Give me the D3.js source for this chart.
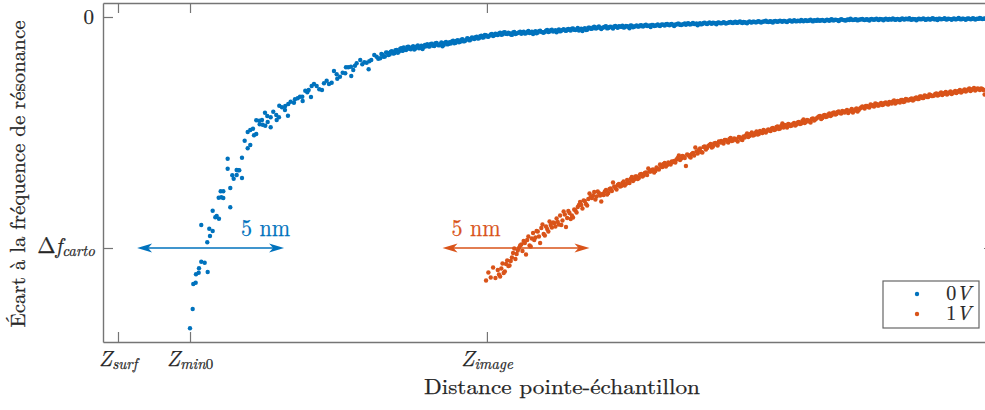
<!DOCTYPE html>
<html><head><meta charset="utf-8">
<script src="https://cdn.jsdelivr.net/npm/d3@7"></script>
<style>
body{margin:0;background:#fff}
svg{display:block}
</style>
</head><body><svg id="c" width="985" height="410"></svg>
<script>
// ---------- DATA ----------
// x: tip-sample distance (nm, 0 = Z_surf), y: resonance frequency shift (Hz)
const tickZ = [0, 2.45, 12.55];
const tickZMain = ["Z", "Z", "Z"];
const tickZSub = ["surf", "min", "image"];
const tickZSubUpright = ["", "0", ""];
const tickDf = [0, -23.1];
const seriesNames = ["0", "1"];
const seriesColors = ["#0072BD", "#D95319"];

// 0 V : steep approach part (read point by point)
const blueSparseZ = [2.449,2.541,2.561,2.643,2.653,2.745,2.755,2.833,2.949,3.051,
2.833,3.037,3.105,3.129,3.221,3.221,3.310,3.357,3.435,3.425,
3.493,3.514,3.582,3.582,3.731,3.731,3.820,3.820,3.888,3.935,
4.037,4.037,4.082,4.126,4.218,4.218,4.310,4.412,4.500,4.412,
4.500,4.592,4.626,4.704,4.704,4.806,4.820,4.898,4.922,5.010,
5.092,5.194,5.000,5.078,5.194,5.282,5.384,5.398,5.476,5.782,
5.486,5.578,5.690,5.680,5.793,5.874,5.986,6.020,6.112,6.190,
6.269,6.282,6.371,6.439,6.486,6.565,6.588,6.667,6.759,6.847,
6.939,7.007,7.099,7.177,7.269,7.347,7.439,7.459,7.551,7.643,
7.731,7.755,7.833,7.925,7.935,8.003,8.061,8.119,8.241,8.310,
8.378,8.459,8.527,8.548,8.616,8.718,8.799,8.854];
const blueSparseDf = [-31.13,-29.20,-26.70,-26.57,-25.73,-25.57,-25.13,-24.47,-24.57,-25.50,
-20.80,-22.53,-21.17,-21.90,-21.40,-19.37,-20.03,-19.90,-20.17,-18.07,
-17.43,-18.03,-18.10,-17.43,-15.17,-14.17,-19.03,-17.10,-15.83,-16.17,
-15.80,-15.30,-15.33,-15.33,-16.10,-14.07,-12.37,-13.13,-12.80,-11.50,
-11.30,-11.17,-11.83,-11.70,-10.33,-10.37,-10.73,-10.30,-10.77,-10.87,
-10.50,-11.03,-9.57,-9.90,-10.03,-9.47,-9.80,-10.30,-10.03,-9.87,
-8.87,-9.03,-8.90,-9.30,-8.70,-8.47,-8.57,-8.23,-8.13,-7.97,
-7.97,-8.40,-7.37,-7.53,-7.30,-8.00,-6.90,-6.70,-6.90,-7.23,
-7.30,-6.63,-6.37,-6.70,-6.57,-5.40,-5.73,-6.17,-5.97,-5.57,
-5.63,-5.03,-5.03,-4.97,-5.90,-5.30,-4.87,-4.63,-4.30,-4.73,
-4.53,-4.57,-5.23,-4.43,-4.30,-3.80,-3.97,-4.17];

// regular sampling of the far part of the sweeps (two interleaved passes)
const zStep = 0.08;
const blueDenseStart = 8.92;
const blueDenseStart2 = 8.96;
const blueDenseDf = [-4.12,-3.78,-3.95,-3.58,-3.74,-3.41,-3.62,-3.29,-3.46,-3.12,
-3.05,-3.31,-2.98,-3.22,-2.91,-3.16,-2.84,-3.08,-3.21,-2.79,
-2.72,-2.96,-2.68,-2.91,-2.60,-2.84,-2.55,-2.79,-2.49,-2.71,
-2.66,-2.38,-2.59,-2.31,-2.47,-2.22,-2.40,-2.13,-2.34,-2.05,
-2.21,-1.96,-2.12,-1.88,-2.04,-1.82,-1.97,-1.74,-1.90,-1.66,
-1.81,-1.58,-1.74,-1.52,-1.70,-1.61,-1.79,-1.50,-1.66,-1.55,
-1.68,-1.46,-1.62,-1.40,-1.57,-1.71,-1.43,-1.55,-1.38,-1.52,
-1.49,-1.30,-1.45,-1.27,-1.41,-1.53,-1.24,-1.37,-1.22,-1.39,
-1.20,-1.36,-1.15,-1.31,-1.09,-1.25,-1.40,-1.12,-1.27,-1.06,
-1.18,-0.98,-1.13,-0.95,-1.21,-1.04,-0.92,-1.10,-0.97,-1.15,
-0.90,-1.08,-0.95,-0.86,-1.03,-0.91,-1.12,-0.88,-0.97,-0.84,
-0.96,-0.81,-0.93,-0.78,-0.89,-1.00,-0.79,-0.87,-0.75,-0.90,
-0.74,-0.86,-0.70,-0.83,-0.69,-0.91,-0.76,-0.66,-0.80,-0.71,
-0.78,-0.63,-0.74,-0.60,-0.71,-0.82,-0.62,-0.69,-0.57,-0.70,
-0.55,-0.68,-0.59,-0.72,-0.54,-0.64,-0.51,-0.66,-0.58,-0.49,
-0.61,-0.47,-0.57,-0.45,-0.60,-0.52,-0.63,-0.44,-0.55,-0.48,
-0.53,-0.41,-0.56,-0.46,-0.38,-0.51,-0.43,-0.55,-0.40,-0.47,
-0.36,-0.48,-0.40,-0.51,-0.35,-0.45,-0.33,-0.44,-0.39,-0.30,
-0.42,-0.31,-0.39,-0.28,-0.44,-0.34,-0.27,-0.38,-0.30,-0.41,
-0.26,-0.37,-0.23,-0.33,-0.29,-0.40,-0.21,-0.31,-0.36,-0.24,
-0.18,-0.30,-0.22,-0.34,-0.26,-0.19,-0.31,-0.23,-0.35,-0.20,
-0.28,-0.17,-0.30,-0.21,-0.33,-0.16,-0.27,-0.24,-0.14,-0.29,
-0.19,-0.31,-0.15,-0.26,-0.20,-0.12,-0.28,-0.22,-0.33,-0.17,
-0.24,-0.14,-0.29,-0.18,-0.25,-0.11,-0.22,-0.30,-0.16,-0.21,
-0.13,-0.26,-0.19,-0.28,-0.15,-0.23,-0.10,-0.24,-0.18,-0.27,
-0.14,-0.22,-0.12,-0.25,-0.17,-0.09,-0.21,-0.15];
const blueDenseDf2 = [-3.70,-3.98,-3.55,-3.81,-3.47,-3.66,-3.33,-3.58,-3.18,-3.39,
-3.27,-2.99,-3.19,-3.01,-3.26,-2.95,-3.13,-2.87,-3.02,-2.93,
-2.93,-2.70,-2.88,-2.63,-2.80,-2.69,-2.92,-2.58,-2.74,-2.52,
-2.45,-2.62,-2.36,-2.53,-2.27,-2.44,-2.30,-2.18,-2.25,-2.10,
-2.02,-2.15,-1.92,-2.06,-1.79,-1.95,-1.86,-1.70,-1.83,-1.75,
-1.64,-1.77,-1.55,-1.69,-1.58,-1.74,-1.54,-1.71,-1.59,-1.48,
-1.53,-1.65,-1.49,-1.60,-1.47,-1.52,-1.63,-1.41,-1.49,-1.58,
-1.36,-1.50,-1.33,-1.46,-1.31,-1.38,-1.44,-1.29,-1.33,-1.25,
-1.30,-1.18,-1.29,-1.22,-1.35,-1.16,-1.21,-1.30,-1.08,-1.17,
-1.05,-1.14,-1.02,-1.09,-1.07,-0.96,-1.14,-1.00,-1.06,-0.94,
-1.01,-0.92,-0.99,-1.06,-0.89,-0.97,-0.85,-1.02,-0.91,-0.96,
-0.85,-0.94,-0.83,-0.90,-0.84,-0.80,-0.91,-0.82,-0.86,-0.77,
-0.80,-0.73,-0.79,-0.72,-0.81,-0.75,-0.68,-0.79,-0.74,-0.65,
-0.67,-0.73,-0.66,-0.70,-0.65,-0.69,-0.74,-0.60,-0.66,-0.62,
-0.63,-0.57,-0.65,-0.56,-0.61,-0.59,-0.56,-0.61,-0.52,-0.57,
-0.53,-0.58,-0.50,-0.55,-0.49,-0.57,-0.51,-0.53,-0.47,-0.52,
-0.45,-0.51,-0.48,-0.42,-0.49,-0.45,-0.50,-0.41,-0.46,-0.43,
-0.43,-0.39,-0.46,-0.41,-0.37,-0.42,-0.40,-0.36,-0.43,-0.38,
-0.35,-0.40,-0.33,-0.37,-0.31,-0.39,-0.35,-0.32,-0.36,-0.33,
-0.32,-0.28,-0.34,-0.27,-0.32,-0.30,-0.26,-0.33,-0.28,-0.31,
-0.26,-0.29,-0.24,-0.28,-0.23,-0.27,-0.25,-0.29,-0.22,-0.26,
-0.23,-0.26,-0.20,-0.25,-0.22,-0.24,-0.19,-0.26,-0.21,-0.23,
-0.24,-0.20,-0.23,-0.18,-0.22,-0.25,-0.19,-0.21,-0.24,-0.20,
-0.19,-0.23,-0.21,-0.24,-0.18,-0.22,-0.20,-0.17,-0.23,-0.19,
-0.22,-0.17,-0.21,-0.19,-0.23,-0.18,-0.20,-0.16,-0.21,-0.18,
-0.18,-0.21,-0.16,-0.20,-0.19,-0.15,-0.19,-0.17];

// 1 V sweep
const orangeStart = 12.52;
const orangeStart2 = 12.96;
const orangeDf = [-26.35,-25.55,-26.05,-25.05,-26.10,-25.30,-25.95,-24.65,-25.45,-24.35,
-24.85,-24.05,-23.15,-23.70,-23.10,-22.75,-22.40,-23.75,-21.95,-22.95,
-21.60,-22.05,-21.45,-22.60,-20.75,-21.85,-21.20,-20.45,-21.05,-20.60,
-20.15,-20.75,-20.80,-19.45,-21.00,-19.40,-20.20,-20.05,-19.35,-19.00,
-18.50,-19.15,-18.40,-18.85,-17.65,-18.10,-17.50,-17.95,-17.60,-18.45,
-17.80,-17.30,-17.60,-17.15,-16.55,-17.10,-16.80,-16.95,-16.60,-16.85,
-16.30,-16.60,-16.00,-16.25,-15.95,-16.10,-15.70,-15.85,-15.55,-15.15,
-15.45,-15.25,-15.40,-15.15,-14.75,-15.00,-14.60,-14.80,-14.65,-14.45,
-14.40,-14.25,-13.85,-14.15,-13.95,-14.90,-13.80,-14.05,-13.60,-13.05,
-13.65,-13.15,-13.55,-12.95,-13.10,-12.80,-13.05,-12.65,-12.75,-12.45,
-12.40,-12.65,-12.30,-12.55,-12.10,-12.35,-12.20,-12.45,-12.05,-12.30,
-12.05,-11.65,-11.90,-11.55,-11.80,-11.45,-11.70,-11.50,-11.30,-11.55,
-11.25,-11.40,-11.10,-11.25,-10.95,-11.15,-10.65,-10.80,-11.05,-10.75,
-10.85,-10.60,-10.75,-10.50,-10.65,-10.25,-10.50,-10.35,-10.55,-10.15,
-10.25,-10.05,-9.90,-10.10,-9.80,-9.95,-9.65,-9.80,-9.55,-9.70,
-9.45,-9.65,-9.50,-9.40,-9.60,-9.35,-9.55,-9.25,-9.45,-9.15,
-8.95,-9.15,-8.90,-9.05,-8.80,-8.95,-8.70,-8.85,-8.60,-8.75,
-8.55,-8.75,-8.60,-8.45,-8.65,-8.40,-8.55,-8.30,-8.45,-8.25,
-8.30,-8.15,-8.25,-8.05,-8.20,-7.95,-8.10,-7.90,-8.00,-7.80,
-7.90,-7.70,-7.85,-7.65,-7.80,-7.60,-7.75,-7.55,-7.70,-7.50,
-7.60,-7.40,-7.55,-7.35,-7.45,-7.25,-7.40,-7.20,-7.35,-7.15,
-7.30,-7.20,-7.75];
const orangeDf2 = [-25.75,-25.15,-25.60,-24.70,-24.90,
-24.40,-23.60,-24.20,-23.35,-22.85,-23.40,-22.60,-22.30,-22.85,-22.15,
-22.30,-21.40,-21.95,-21.10,-21.70,-20.95,-21.45,-20.80,-20.55,-20.95,
-20.50,-19.85,-20.35,-19.75,-20.10,-19.60,-19.85,-19.25,-19.55,-18.80,
-18.80,-18.35,-18.70,-18.20,-18.00,-17.85,-18.25,-17.45,-17.85,-17.70,
-17.45,-17.75,-17.20,-17.40,-16.95,-17.25,-16.70,-16.90,-16.45,-16.70,
-16.55,-16.20,-16.40,-15.95,-16.20,-15.75,-15.95,-15.60,-15.80,-15.45,
-15.30,-15.55,-15.05,-15.25,-14.95,-14.70,-14.95,-14.55,-14.75,-14.50,
-14.55,-14.10,-14.30,-13.90,-14.10,-13.75,-13.95,-13.70,-13.85,-13.45,
-13.30,-13.50,-13.00,-13.25,-12.90,-12.70,-12.95,-12.60,-12.85,-12.55,
-12.55,-12.30,-12.45,-12.20,-12.40,-12.15,-12.30,-12.00,-12.25,-11.95,
-11.85,-12.00,-11.70,-11.85,-11.60,-11.75,-11.40,-11.60,-11.45,-11.35,
-11.35,-11.15,-11.30,-11.00,-11.20,-10.90,-11.05,-10.85,-10.70,-10.90,
-10.70,-10.85,-10.55,-10.70,-10.40,-10.60,-10.30,-10.45,-10.20,-10.35,
-10.15,-9.95,-10.20,-9.85,-10.00,-9.75,-9.90,-9.60,-9.75,-9.50,
-9.60,-9.40,-9.55,-9.30,-9.45,-9.20,-9.40,-9.15,-9.30,-9.05,
-9.05,-8.90,-9.00,-8.75,-8.90,-8.65,-8.85,-8.70,-8.80,-8.60,
-8.70,-8.50,-8.65,-8.35,-8.55,-8.45,-8.30,-8.50,-8.20,-8.35,
-8.20,-8.35,-8.10,-8.20,-7.95,-8.10,-7.85,-8.00,-7.75,-7.90,
-7.85,-7.65,-7.80,-7.55,-7.70,-7.50,-7.65,-7.45,-7.60,-7.40,
-7.50,-7.30,-7.45,-7.25,-7.35,-7.15,-7.30,-7.10,-7.25,-7.20,
-7.15,-7.30,-7.25];

// 5 nm scale arrows
const arrowStartZ = [0.65, 11.04];
const arrowSpanNm = 5;
const arrowLabel = "5 nm";

// ---------- CHART ----------
const FONT = '"Latin Modern Roman"';
const TXT = "#262626";
const svg = d3.select("#c");
const x = d3.scaleLinear().domain([-0.51, 29.80]).range([103, 994]);
const y = d3.scaleLinear().domain([-32.5, 1.4]).range([342, 3]);
const AX = "#757575";

function txt(sel){
  return sel.append("text").style("font-family", FONT).attr("fill", TXT)
    .attr("stroke", TXT).attr("stroke-width", 0.25);
}
function ts(t){ return t.append("tspan").style("font-family", FONT); }

function styleAxis(g){
  g.selectAll(".domain").attr("stroke", AX).attr("stroke-width", 1.4);
  g.selectAll(".tick line").attr("stroke", AX).attr("stroke-width", 1.2);
  g.selectAll(".tick text").remove();
}
svg.append("g").attr("transform", `translate(0,${y(-32.5)})`)
  .call(d3.axisBottom(x).tickValues(tickZ).tickSize(-10).tickSizeOuter(0)).call(styleAxis);
svg.append("g").attr("transform", `translate(0,${y(1.4)})`)
  .call(d3.axisTop(x).tickValues(tickZ).tickSize(-10).tickSizeOuter(0)).call(styleAxis);
svg.append("g").attr("transform", `translate(${x(-0.51)},0)`)
  .call(d3.axisLeft(y).tickValues(tickDf).tickSize(-10).tickSizeOuter(0)).call(styleAxis);
svg.append("g").attr("transform", `translate(${x(29.80)},0)`)
  .call(d3.axisRight(y).tickValues(tickDf).tickSize(-10).tickSizeOuter(0)).call(styleAxis);

// x tick labels
tickZ.forEach((v, i) => {
  const t = txt(svg).attr("x", x(v)).attr("y", 366).attr("text-anchor", "middle");
  ts(t).attr("font-style", "italic").attr("font-size", 22).text(tickZMain[i]);
  ts(t).attr("font-style", "italic").attr("font-size", 15).attr("dy", 3).text(tickZSub[i]);
  if (tickZSubUpright[i]) ts(t).attr("font-size", 15).text(tickZSubUpright[i]);
});
// y tick labels
txt(svg).attr("x", x(-0.51) - 9).attr("y", y(tickDf[0]) + 7)
  .attr("text-anchor", "end").attr("font-size", 21).text("0");
{
  const t = txt(svg).attr("x", x(-0.51) - 8).attr("y", y(tickDf[1]) + 5).attr("text-anchor", "end");
  ts(t).attr("font-size", 22).text("Δ");
  ts(t).attr("font-size", 22).attr("font-style", "italic").text("f");
  ts(t).attr("font-size", 15).attr("font-style", "italic").attr("dy", 3).text("carto");
}

// axis titles
txt(svg).attr("x", 562).attr("y", 394).attr("text-anchor", "middle")
  .attr("font-size", 21).attr("textLength", 276).attr("lengthAdjust", "spacingAndGlyphs")
  .text("Distance pointe-échantillon");
txt(svg).attr("transform", "translate(25,174) rotate(-90)").attr("text-anchor", "middle")
  .attr("font-size", 21).attr("textLength", 307).attr("lengthAdjust", "spacingAndGlyphs")
  .text("Écart à la fréquence de résonance");

// points
const blue = blueSparseZ.map((z, i) => ({z, df: blueSparseDf[i]}))
  .concat(blueDenseDf.map((df, i) => ({z: blueDenseStart + i * zStep, df})))
  .concat(blueDenseDf2.map((df, i) => ({z: blueDenseStart2 + i * zStep, df})));
const orange = orangeDf.map((df, i) => ({z: orangeStart + i * zStep, df}))
  .concat(orangeDf2.map((df, i) => ({z: orangeStart2 + i * zStep, df})));
[blue, orange].forEach((data, s) => {
  svg.append("g").selectAll("circle").data(data).join("circle")
    .attr("cx", d => x(d.z)).attr("cy", d => y(d.df)).attr("r", 2.2)
    .attr("fill", seriesColors[s]);
});

// 5 nm arrows
arrowStartZ.forEach((z0, i) => {
  const c = seriesColors[i];
  const x1 = x(z0), x2 = x(z0 + arrowSpanNm), yy = y(tickDf[1]);
  const g = svg.append("g");
  g.append("line").attr("x1", x1 + 6).attr("x2", x2 - 6).attr("y1", yy).attr("y2", yy)
    .attr("stroke", c).attr("stroke-width", 1.3);
  const L = 15, Wd = 4.5, N = 11;
  g.append("path").attr("fill", c)
    .attr("d", `M${x2},${yy} L${x2 - L},${yy - Wd} L${x2 - N},${yy} L${x2 - L},${yy + Wd} Z`);
  g.append("path").attr("fill", c)
    .attr("d", `M${x1},${yy} L${x1 + L},${yy - Wd} L${x1 + N},${yy} L${x1 + L},${yy + Wd} Z`);
  const lab = g.append("text").style("font-family", FONT).attr("fill", c)
    .attr("stroke", c).attr("stroke-width", 0.25)
    .attr("y", yy - 12).attr("font-size", 24).attr("textLength", 49).attr("lengthAdjust", "spacingAndGlyphs")
    .text(arrowLabel);
  if (i === 0) lab.attr("x", x2 + 6).attr("text-anchor", "end");
  else lab.attr("x", x1 + 9).attr("text-anchor", "start");
});

// legend
{
  const g = svg.append("g");
  g.append("rect").attr("x", 883).attr("y", 281).attr("width", 96).attr("height", 47)
    .attr("fill", "#fff").attr("stroke", "#666").attr("stroke-width", 1.2);
  seriesNames.forEach((n, i) => {
    const cy = 294 + i * 20;
    g.append("circle").attr("cx", 917).attr("cy", cy).attr("r", 2.2).attr("fill", seriesColors[i]);
    const t = txt(g).attr("x", 971).attr("y", cy + 6).attr("text-anchor", "end").attr("font-size", 20);
    ts(t).text(n + "");
    ts(t).attr("font-style", "italic").text("V");
  });
}
</script>
</body></html>
